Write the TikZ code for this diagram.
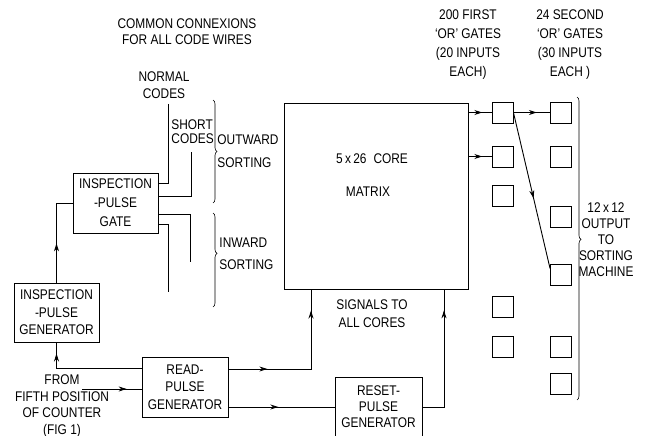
\documentclass[tikz,border=0pt]{standalone}
\usepackage{fontspec}
\setmainfont{Liberation Sans}[FakeStretch=0.85]
\usetikzlibrary{arrows.meta,decorations.markings,decorations.pathreplacing}

\begin{document}
\begin{tikzpicture}[x=1pt, y=-1pt, line width=0.9pt,
    every node/.style={font=\fontsize{14}{17.5}\selectfont, inner sep=0pt},
    box/.style={draw, minimum width=86pt, minimum height=60pt, align=center},
    orgate/.style={draw, minimum size=21pt},
    arrowat/.style={postaction={decorate, decoration={markings,
        mark=at position #1 with {\arrow[line width=0.9pt]{Stealth[length=8pt,width=5pt]}}}}},
    brc/.style={decorate, decoration={brace, amplitude=4pt, aspect=#1}}]
      \useasboundingbox (0,0) rectangle (646,436);

      % blocks
      \node[box, minimum width=85pt] (gate) at (115.5,203) {INSPECTION\\[1.5pt]-PULSE\\[1.5pt]GATE};
      \node[box, minimum width=85pt, minimum height=59pt] (ipg) at (56.5,312.5) {INSPECTION\\-PULSE\\GENERATOR};
      \node[box] (read) at (185,387) {READ-\\PULSE\\GENERATOR};
      \node[box, minimum width=87pt] (reset) at (378.5,407) {RESET-\\[-1.5pt]PULSE\\[-1.5pt]GENERATOR};
      \node[draw, minimum width=184pt, minimum height=186pt] (matrix) at (376,196) {};
      \node (core) at (372,159) {5\,x\,26\enspace CORE};
      \node (mtx) at (368,192) {MATRIX};

      % or gates
      \node[orgate] (f1) at (502.5,112.5) {};
      \node[orgate] (f2) at (502.5,156.5) {};
      \node[orgate] (f3) at (502.5,195.5) {};
      \node[orgate] (f4) at (502.5,306.5) {};
      \node[orgate] (f5) at (502.5,346.5) {};
      \node[orgate] (s1) at (561,112.5) {};
      \node[orgate] (s2) at (561,156.5) {};
      \node[orgate] (s3) at (561,217) {};
      \node[orgate] (s4) at (561,274.5) {};
      \node[orgate] (s5) at (561,346.5) {};
      \node[orgate] (s6) at (561,383.5) {};

      % labels
      \node[align=center] (title) at (187,32) {COMMON CONNEXIONS\\[-1.5pt]FOR ALL CODE WIRES};
      \node[align=center] (normal) at (164,85.5) {NORMAL\\[-0.5pt]CODES};
      \node[align=left, anchor=west] (short) at (171,132) {SHORT\\[-3.5pt]CODES};
      \node[align=left, anchor=west] (outw) at (217,151.5) {OUTWARD\\[5.5pt]SORTING};
      \node[align=left, anchor=west] (inw) at (219,254) {INWARD\\[4.5pt]SORTING};
      \node[align=center] (sig) at (372,314) {SIGNALS TO\\[0.5pt]ALL CORES};
      \node[align=center] (from) at (62,406) {FROM\\[-1pt]FIFTH POSITION\\[-1pt]OF COUNTER\\[-1pt](FIG 1)};
      \node[align=center] (first) at (468,44.5) {200 FIRST\\[1.5pt]`OR' GATES\\[1.5pt](20 INPUTS\\[1.5pt]EACH)};
      \node[align=center] (second) at (570,44.5) {24 SECOND\\[1.5pt]`OR' GATES\\[1.5pt](30 INPUTS\\[1.5pt]EACH )};
      \node[align=center] (out) at (606,240) {12\,x\,12\\[-1.5pt]OUTPUT\\[-1.5pt]TO\\[-1.5pt]SORTING\\[-1.5pt]MACHINE};

      % code wires
      \coordinate (nc) at (168,104);
      \coordinate (sc) at (191,152);
      \coordinate (iw1) at (190,262);
      \coordinate (iw2) at (168,292);
      \draw (nc) |- ([yshift=20pt]gate.east);
      \draw (sc) |- ([yshift=7pt]gate.east);
      \draw ([yshift=-11pt]gate.east) -| (iw1);
      \draw ([yshift=-21pt]gate.east) -| (iw2);

      % braces
      \draw[line width=0.6pt, brc=0.5] (213,100) -- (213,203);
      \draw[line width=0.6pt, brc=0.43] (213,213) -- (213,307);
      \draw[line width=0.6pt, brc=0.47] (577,97) -- (577,400);

      % pulses
      \coordinate (fifth) at (82,389);
      \draw[arrowat=0.41] (ipg.north) |- (gate.west);
      \draw[arrowat=0.9] ([yshift=19pt]read.west) -| (ipg.south);
      \draw[arrowat=0.75] (fifth) -- (fifth -| read.west);
      \draw[arrowat=0.24, arrowat=0.87] ([yshift=18pt]read.east) -| ([xshift=-65pt]matrix.south);
      \draw[arrowat=0.47] ([yshift=-20pt]read.east) -- (reset.west);
      \draw[arrowat=0.85] (reset.east) -| ([xshift=68pt]matrix.south);

      % matrix outputs
      \draw[arrowat=0.6] (matrix.east |- f1) -- (f1.west);
      \draw[arrowat=0.6] (matrix.east |- f2) -- (f2.west);
      \draw[arrowat=0.64] (f1.east) -- (s1.west);
      \draw[arrowat=0.55] (f1.east) -- ([yshift=6pt]s4.west);
    \end{tikzpicture}
\end{document}
